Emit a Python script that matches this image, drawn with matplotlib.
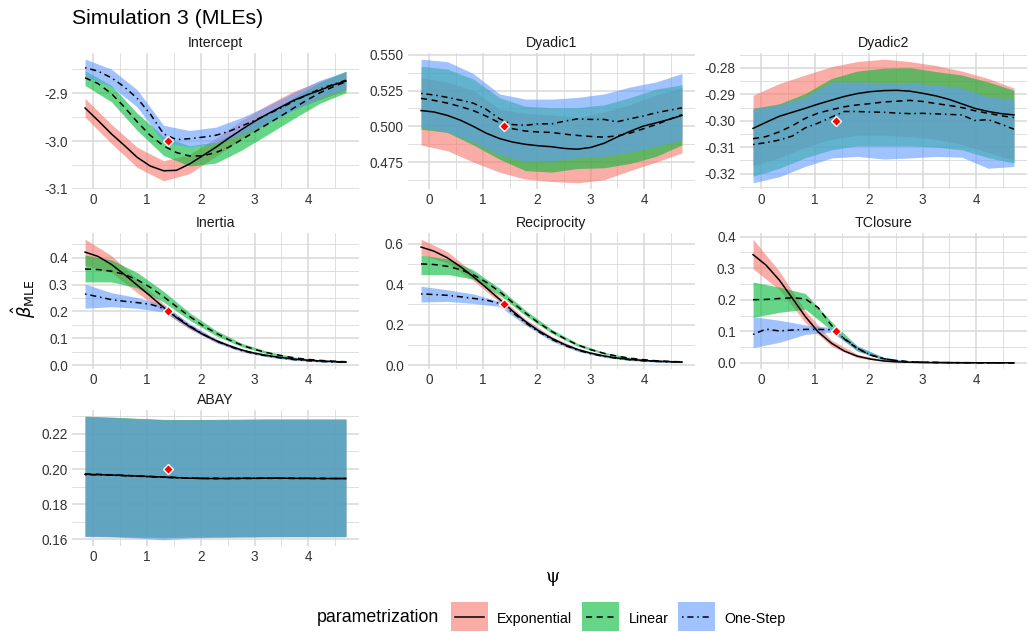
import numpy as np
import matplotlib
matplotlib.use("Agg")
import matplotlib.pyplot as plt
from matplotlib.patches import Rectangle
from matplotlib.lines import Line2D

plt.rcParams['font.family'] = ['Liberation Sans', 'DejaVu Sans']
plt.rcParams['axes.unicode_minus'] = False

# ---------------- data ----------------
psi = [-0.15, 0.09, 0.34, 0.58, 0.82, 1.06, 1.31, 1.55, 1.79, 2.03, 2.28,
       2.52, 2.76, 3.00, 3.25, 3.49, 3.73, 3.97, 4.22, 4.46, 4.70]
psi_band = [-0.15, 0.34, 0.82, 1.31, 1.79, 2.28, 2.76, 3.25, 3.73, 4.22, 4.70]
psi_true = 1.39

parametrizations = ["Exponential", "Linear", "One-Step"]
effects = ["Intercept", "Dyadic1", "Dyadic2", "Inertia", "Reciprocity", "TClosure", "ABAY"]
true_values = [-3.0, 0.5, -0.3, 0.2, 0.3, 0.1, 0.2]

# Intercept
intercept_exp = [-2.931, -2.957, -2.985, -3.009, -3.034, -3.052, -3.062, -3.061, -3.048, -3.031, -3.013,
                 -2.994, -2.976, -2.959, -2.943, -2.929, -2.915, -2.904, -2.894, -2.883, -2.875]
intercept_lin = [-2.868, -2.880, -2.901, -2.929, -2.960, -2.988, -3.010, -3.024, -3.031, -3.031, -3.024,
                 -3.013, -2.997, -2.981, -2.964, -2.948, -2.931, -2.915, -2.899, -2.887, -2.876]
intercept_one = [-2.847, -2.854, -2.868, -2.887, -2.911, -2.943, -2.985, -2.997, -2.995, -2.992, -2.988,
                 -2.980, -2.969, -2.957, -2.944, -2.931, -2.917, -2.904, -2.891, -2.882, -2.873]
intercept_exp_lo = [-2.950, -3.005, -3.055, -3.083, -3.068, -3.032, -2.995, -2.962, -2.934, -2.913, -2.894]
intercept_exp_hi = [-2.911, -2.965, -3.013, -3.041, -3.028, -2.994, -2.957, -2.924, -2.896, -2.875, -2.856]
intercept_lin_lo = [-2.884, -2.918, -2.978, -3.030, -3.052, -3.046, -3.019, -2.986, -2.953, -2.921, -2.899]
intercept_lin_hi = [-2.853, -2.884, -2.942, -2.990, -3.010, -3.002, -2.975, -2.942, -2.909, -2.877, -2.854]
intercept_one_lo = [-2.865, -2.886, -2.929, -3.003, -3.012, -3.005, -2.987, -2.962, -2.935, -2.909, -2.891]
intercept_one_hi = [-2.829, -2.850, -2.893, -2.967, -2.978, -2.971, -2.951, -2.926, -2.899, -2.873, -2.855]

# Dyadic1
dyadic1_exp = [0.5110, 0.5100, 0.5076, 0.5043, 0.5000, 0.4952, 0.4914, 0.4890, 0.4874, 0.4864, 0.4857,
               0.4845, 0.4840, 0.4852, 0.4881, 0.4924, 0.4964, 0.5000, 0.5024, 0.5048, 0.5076]
dyadic1_lin = [0.5195, 0.5181, 0.5162, 0.5138, 0.5110, 0.5071, 0.5024, 0.4983, 0.4967, 0.4960, 0.4957,
               0.4945, 0.4936, 0.4929, 0.4924, 0.4933, 0.4952, 0.4981, 0.5012, 0.5048, 0.5081]
dyadic1_one = [0.5230, 0.5219, 0.5202, 0.5183, 0.5162, 0.5119, 0.5052, 0.5012, 0.5007, 0.5017, 0.5017,
               0.5036, 0.5052, 0.5048, 0.5048, 0.5031, 0.5052, 0.5071, 0.5095, 0.5112, 0.5129]
dyadic1_exp_lo = [0.4869, 0.4829, 0.4750, 0.4679, 0.4631, 0.4614, 0.4605, 0.4626, 0.4690, 0.4750, 0.4814]
dyadic1_exp_hi = [0.5340, 0.5310, 0.5250, 0.5120, 0.5090, 0.5080, 0.5060, 0.5100, 0.5150, 0.5220, 0.5270]
dyadic1_lin_lo = [0.4980, 0.4957, 0.4870, 0.4770, 0.4690, 0.4680, 0.4705, 0.4710, 0.4740, 0.4790, 0.4870]
dyadic1_lin_hi = [0.5420, 0.5400, 0.5330, 0.5200, 0.5140, 0.5130, 0.5130, 0.5150, 0.5200, 0.5260, 0.5290]
dyadic1_one_lo = [0.4995, 0.4960, 0.4890, 0.4800, 0.4755, 0.4760, 0.4780, 0.4790, 0.4820, 0.4860, 0.4905]
dyadic1_one_hi = [0.5469, 0.5452, 0.5369, 0.5226, 0.5190, 0.5190, 0.5202, 0.5226, 0.5274, 0.5310, 0.5369]

# Dyadic2
dyadic2_exp = [-0.3029, -0.3006, -0.2983, -0.2968, -0.2953, -0.2937, -0.2922, -0.2908, -0.2897, -0.2890, -0.2886,
               -0.2885, -0.2888, -0.2896, -0.2906, -0.2919, -0.2936, -0.2953, -0.2965, -0.2973, -0.2978]
dyadic2_lin = [-0.3068, -0.3060, -0.3042, -0.3019, -0.2991, -0.2971, -0.2958, -0.2947, -0.2940, -0.2935, -0.2929,
               -0.2926, -0.2923, -0.2927, -0.2935, -0.2942, -0.2950, -0.2962, -0.2972, -0.2981, -0.2988]
dyadic2_one = [-0.3090, -0.3083, -0.3073, -0.3058, -0.3027, -0.3009, -0.2986, -0.2965, -0.2965, -0.2967, -0.2968,
               -0.2971, -0.2973, -0.2972, -0.2974, -0.2976, -0.2978, -0.2999, -0.2996, -0.3013, -0.3032]
dyadic2_exp_lo = [-0.3170, -0.3140, -0.3100, -0.3070, -0.3055, -0.3055, -0.3060, -0.3070, -0.3090, -0.3120, -0.3150]
dyadic2_exp_hi = [-0.2904, -0.2859, -0.2827, -0.2795, -0.2776, -0.2767, -0.2776, -0.2791, -0.2812, -0.2840, -0.2876]
dyadic2_lin_lo = [-0.3210, -0.3180, -0.3140, -0.3110, -0.3095, -0.3095, -0.3095, -0.3100, -0.3110, -0.3140, -0.3160]
dyadic2_lin_hi = [-0.2953, -0.2936, -0.2897, -0.2840, -0.2812, -0.2801, -0.2799, -0.2814, -0.2827, -0.2853, -0.2885]
dyadic2_one_lo = [-0.3235, -0.3212, -0.3173, -0.3141, -0.3135, -0.3145, -0.3141, -0.3135, -0.3138, -0.3180, -0.3173]
dyadic2_one_hi = [-0.2955, -0.2940, -0.2910, -0.2853, -0.2853, -0.2856, -0.2856, -0.2865, -0.2876, -0.2910, -0.2919]

# Inertia
inertia_exp = [0.421, 0.405, 0.375, 0.338, 0.298, 0.258, 0.215, 0.177, 0.144, 0.116, 0.092,
               0.073, 0.057, 0.045, 0.036, 0.029, 0.023, 0.019, 0.016, 0.014, 0.012]
inertia_lin = [0.358, 0.356, 0.350, 0.338, 0.318, 0.290, 0.255, 0.218, 0.182, 0.149, 0.120,
               0.095, 0.075, 0.059, 0.046, 0.036, 0.028, 0.022, 0.018, 0.015, 0.013]
inertia_one = [0.265, 0.255, 0.244, 0.238, 0.233, 0.227, 0.212, 0.180, 0.147, 0.117, 0.091,
               0.071, 0.055, 0.043, 0.034, 0.027, 0.021, 0.017, 0.014, 0.012, 0.011]
inertia_exp_lo = [0.372, 0.345, 0.270, 0.200, 0.135, 0.086, 0.053, 0.033, 0.021, 0.014, 0.010]
inertia_exp_hi = [0.469, 0.408, 0.320, 0.228, 0.152, 0.098, 0.061, 0.039, 0.025, 0.018, 0.014]
inertia_lin_lo = [0.310, 0.310, 0.288, 0.235, 0.168, 0.110, 0.069, 0.042, 0.025, 0.015, 0.010]
inertia_lin_hi = [0.410, 0.392, 0.345, 0.275, 0.196, 0.130, 0.082, 0.051, 0.031, 0.020, 0.015]
inertia_one_lo = [0.212, 0.218, 0.212, 0.198, 0.137, 0.084, 0.050, 0.030, 0.018, 0.012, 0.009]
inertia_one_hi = [0.302, 0.270, 0.252, 0.225, 0.156, 0.098, 0.060, 0.037, 0.024, 0.016, 0.013]

# Reciprocity
reciprocity_exp = [0.583, 0.563, 0.530, 0.487, 0.437, 0.383, 0.325, 0.268, 0.216, 0.171, 0.133,
                   0.102, 0.078, 0.060, 0.046, 0.036, 0.029, 0.024, 0.020, 0.018, 0.016]
reciprocity_lin = [0.500, 0.497, 0.488, 0.472, 0.447, 0.410, 0.363, 0.310, 0.258, 0.210, 0.167,
                   0.131, 0.101, 0.077, 0.059, 0.045, 0.035, 0.028, 0.022, 0.019, 0.017]
reciprocity_one = [0.352, 0.349, 0.345, 0.338, 0.330, 0.322, 0.305, 0.260, 0.210, 0.166, 0.128,
                   0.098, 0.075, 0.057, 0.044, 0.034, 0.027, 0.022, 0.019, 0.017, 0.015]
reciprocity_exp_lo = [0.545, 0.505, 0.418, 0.310, 0.204, 0.124, 0.072, 0.042, 0.026, 0.017, 0.013]
reciprocity_exp_hi = [0.622, 0.560, 0.458, 0.340, 0.228, 0.142, 0.084, 0.050, 0.032, 0.023, 0.019]
reciprocity_lin_lo = [0.447, 0.448, 0.425, 0.345, 0.245, 0.157, 0.094, 0.054, 0.031, 0.019, 0.014]
reciprocity_lin_hi = [0.543, 0.525, 0.470, 0.380, 0.272, 0.177, 0.108, 0.064, 0.039, 0.025, 0.020]
reciprocity_one_lo = [0.312, 0.315, 0.305, 0.290, 0.198, 0.118, 0.068, 0.039, 0.023, 0.015, 0.012]
reciprocity_one_hi = [0.390, 0.372, 0.352, 0.315, 0.222, 0.136, 0.080, 0.047, 0.030, 0.021, 0.017]

# TClosure
tclosure_exp = [0.343, 0.310, 0.262, 0.205, 0.147, 0.098, 0.062, 0.037, 0.021, 0.012, 0.006,
                0.003, 0.002, 0.001, 0.001, 0.0005, 0.0003, 0.0002, 0.0001, 0.0001, 0.0001]
tclosure_lin = [0.200, 0.201, 0.204, 0.206, 0.203, 0.175, 0.118, 0.075, 0.045, 0.025, 0.013,
                0.007, 0.003, 0.002, 0.001, 0.0006, 0.0004, 0.0002, 0.0001, 0.0001, 0.0001]
tclosure_one = [0.090, 0.107, 0.101, 0.104, 0.106, 0.106, 0.105, 0.077, 0.046, 0.025, 0.013,
                0.007, 0.003, 0.002, 0.001, 0.0006, 0.0004, 0.0002, 0.0001, 0.0001, 0.0001]
tclosure_exp_lo = [0.298, 0.232, 0.128, 0.052, 0.016, 0.004, 0.001, 0.0, 0.0, 0.0, 0.0]
tclosure_exp_hi = [0.392, 0.290, 0.165, 0.072, 0.027, 0.009, 0.003, 0.0015, 0.001, 0.0005, 0.0005]
tclosure_lin_lo = [0.144, 0.160, 0.170, 0.103, 0.037, 0.009, 0.001, 0.0, 0.0, 0.0, 0.0]
tclosure_lin_hi = [0.256, 0.240, 0.220, 0.130, 0.053, 0.017, 0.005, 0.002, 0.001, 0.0005, 0.0005]
tclosure_one_lo = [0.048, 0.065, 0.090, 0.097, 0.038, 0.009, 0.001, 0.0, 0.0, 0.0, 0.0]
tclosure_one_hi = [0.146, 0.135, 0.120, 0.112, 0.054, 0.017, 0.005, 0.002, 0.001, 0.0005, 0.0005]

# ABAY
abay_exp = [0.1970, 0.1968, 0.1966, 0.1963, 0.1960, 0.1957, 0.1954, 0.1951, 0.1948, 0.1946, 0.1946,
            0.1946, 0.1947, 0.1947, 0.1948, 0.1948, 0.1947, 0.1947, 0.1946, 0.1946, 0.1946]
abay_lin = [0.1972, 0.1970, 0.1967, 0.1964, 0.1961, 0.1958, 0.1955, 0.1952, 0.1949, 0.1947, 0.1946,
            0.1946, 0.1946, 0.1947, 0.1947, 0.1947, 0.1947, 0.1946, 0.1946, 0.1946, 0.1946]
abay_one = [0.1968, 0.1967, 0.1965, 0.1962, 0.1959, 0.1956, 0.1953, 0.1950, 0.1948, 0.1947, 0.1947,
            0.1947, 0.1948, 0.1948, 0.1948, 0.1948, 0.1947, 0.1947, 0.1947, 0.1946, 0.1946]
abay_exp_lo = [0.1618, 0.1616, 0.1612, 0.1610, 0.1612, 0.1614, 0.1615, 0.1616, 0.1616, 0.1616, 0.1616]
abay_exp_hi = [0.2298, 0.2293, 0.2287, 0.2280, 0.2280, 0.2281, 0.2282, 0.2283, 0.2283, 0.2283, 0.2283]
abay_lin_lo = [0.1620, 0.1617, 0.1614, 0.1612, 0.1613, 0.1614, 0.1615, 0.1616, 0.1616, 0.1616, 0.1616]
abay_lin_hi = [0.2300, 0.2295, 0.2288, 0.2282, 0.2281, 0.2282, 0.2283, 0.2284, 0.2284, 0.2284, 0.2284]
abay_one_lo = [0.1616, 0.1614, 0.1608, 0.1598, 0.1608, 0.1612, 0.1614, 0.1615, 0.1616, 0.1616, 0.1616]
abay_one_hi = [0.2296, 0.2292, 0.2286, 0.2279, 0.2279, 0.2280, 0.2281, 0.2282, 0.2282, 0.2282, 0.2282]

# y tick labels per panel
yticklabels = {
    "Intercept": ["-3.1", "-3.0", "-2.9"],
    "Dyadic1": ["0.475", "0.500", "0.525", "0.550"],
    "Dyadic2": ["-0.32", "-0.31", "-0.30", "-0.29", "-0.28"],
    "Inertia": ["0.0", "0.1", "0.2", "0.3", "0.4"],
    "Reciprocity": ["0.0", "0.2", "0.4", "0.6"],
    "TClosure": ["0.0", "0.1", "0.2", "0.3", "0.4"],
    "ABAY": ["0.16", "0.18", "0.20", "0.22"],
}
xticklabels = ["0", "1", "2", "3", "4"]

# ---------------- assemble ----------------
series = {
    "Intercept": ([intercept_exp, intercept_lin, intercept_one],
                  [(intercept_exp_lo, intercept_exp_hi), (intercept_lin_lo, intercept_lin_hi), (intercept_one_lo, intercept_one_hi)]),
    "Dyadic1": ([dyadic1_exp, dyadic1_lin, dyadic1_one],
                [(dyadic1_exp_lo, dyadic1_exp_hi), (dyadic1_lin_lo, dyadic1_lin_hi), (dyadic1_one_lo, dyadic1_one_hi)]),
    "Dyadic2": ([dyadic2_exp, dyadic2_lin, dyadic2_one],
                [(dyadic2_exp_lo, dyadic2_exp_hi), (dyadic2_lin_lo, dyadic2_lin_hi), (dyadic2_one_lo, dyadic2_one_hi)]),
    "Inertia": ([inertia_exp, inertia_lin, inertia_one],
                [(inertia_exp_lo, inertia_exp_hi), (inertia_lin_lo, inertia_lin_hi), (inertia_one_lo, inertia_one_hi)]),
    "Reciprocity": ([reciprocity_exp, reciprocity_lin, reciprocity_one],
                    [(reciprocity_exp_lo, reciprocity_exp_hi), (reciprocity_lin_lo, reciprocity_lin_hi), (reciprocity_one_lo, reciprocity_one_hi)]),
    "TClosure": ([tclosure_exp, tclosure_lin, tclosure_one],
                 [(tclosure_exp_lo, tclosure_exp_hi), (tclosure_lin_lo, tclosure_lin_hi), (tclosure_one_lo, tclosure_one_hi)]),
    "ABAY": ([abay_exp, abay_lin, abay_one],
             [(abay_exp_lo, abay_exp_hi), (abay_lin_lo, abay_lin_hi), (abay_one_lo, abay_one_hi)]),
}

fill_colors = ["#F8766D", "#00BA38", "#619CFF"]
line_styles = ["-", (0, (4, 3)), (0, (1, 2.5, 4, 2.5))]
FILL_ALPHA = 0.6
GRID = "#D9D9D9"
TICK_COLOR = "#333333"

W, H = 1030, 632
fig = plt.figure(figsize=(W / 100, H / 100), dpi=100)

col_left = [72, 408, 740]
panel_w = 287
row_tops = [53, 233, 410]
panel_h = 136


def add_panel(col, row):
    l, t = col_left[col], row_tops[row]
    return fig.add_axes([l / W, 1 - (t + panel_h) / H, panel_w / W, panel_h / H])


for k, eff in enumerate(effects):
    row, col = divmod(k, 3)
    ax = add_panel(col, row)
    means, bands = series[eff]
    for (lo, hi), c in zip(bands, fill_colors):
        ax.fill_between(psi_band, lo, hi, color=c, alpha=FILL_ALPHA, linewidth=0, zorder=2)
    for m, ls in zip(means, line_styles):
        ax.plot(psi, m, color="black", linestyle=ls, linewidth=1.1, zorder=3)
    ax.plot([psi_true], [true_values[k]], marker="D", markersize=5.5, markerfacecolor="red",
            markeredgecolor="white", markeredgewidth=1.0, linestyle="none", zorder=5)

    # limits with ggplot-like 5% expansion
    xmin, xmax = min(psi), max(psi)
    dx = 0.05 * (xmax - xmin)
    ax.set_xlim(xmin - dx, xmax + dx)
    ymin = min(min(b[0]) for b in bands)
    ymax = max(max(b[1]) for b in bands)
    ymin = min(ymin, true_values[k]); ymax = max(ymax, true_values[k])
    dy = 0.05 * (ymax - ymin)
    ax.set_ylim(ymin - dy, ymax + dy)

    ylabs = yticklabels[eff]
    yt = [float(s) for s in ylabs]
    step = yt[1] - yt[0]
    ax.set_yticks(yt)
    ax.set_yticklabels(ylabs)
    lo_lim, hi_lim = ax.get_ylim()
    minors = []
    v = yt[0] - step / 2
    while v > lo_lim:
        minors.append(v); v -= step
    v = yt[0] + step / 2
    while v < hi_lim:
        minors.append(v); v += step
    ax.set_yticks(minors, minor=True)

    ax.set_xticks([0, 1, 2, 3, 4])
    ax.set_xticklabels(xticklabels)
    ax.set_xticks([0.5, 1.5, 2.5, 3.5, 4.5], minor=True)

    ax.grid(which="major", color=GRID, linewidth=1.1, zorder=0)
    ax.grid(which="minor", color=GRID, linewidth=0.6, zorder=0)
    ax.set_axisbelow(True)
    for s in ax.spines.values():
        s.set_visible(False)
    ax.tick_params(which="both", length=0, labelsize=9.8, labelcolor=TICK_COLOR, pad=3)
    ax.set_title(eff, fontsize=10.2, color="#1A1A1A", pad=4)

# titles and axis labels
fig.text(72 / W, 1 - 18 / H, "Simulation 3 (MLEs)", fontsize=15.3, ha="left", va="center", color="black")
fig.text(24 / W, 1 - 299 / H, r"$\hat{\beta}_{\mathrm{MLE}}$", rotation=90, fontsize=13,
         ha="center", va="center", color="black")
fig.text(553 / W, 1 - 577 / H, "ψ", family="DejaVu Serif", fontsize=13, ha="center", va="center")

# legend (drawn in figure pixel coordinates)
def px(x, y):
    return x / W, 1 - y / H

legend_y = 618
fig.text(*px(317, legend_y), "parametrization", fontsize=12.8, ha="left", va="center", color="black")
key_x = [451, 582, 678]
lab_x = [497, 629, 724]
for kx, lx, c, ls, name in zip(key_x, lab_x, fill_colors, line_styles, parametrizations):
    x0, y0 = px(kx, 631)
    fig.add_artist(Rectangle((x0, y0), 37 / W, 29 / H, transform=fig.transFigure,
                             facecolor=c, alpha=FILL_ALPHA, edgecolor="none"))
    xa, ya = px(kx + 4, 616.5)
    xb, _ = px(kx + 33, 616.5)
    fig.add_artist(Line2D([xa, xb], [ya, ya], transform=fig.transFigure, color="black",
                          linestyle=ls, linewidth=1.1))
    fig.text(*px(lx, legend_y + 1), name, fontsize=10.3, ha="left", va="center", color="black")

fig.savefig("out.png", dpi=100, facecolor="white")
